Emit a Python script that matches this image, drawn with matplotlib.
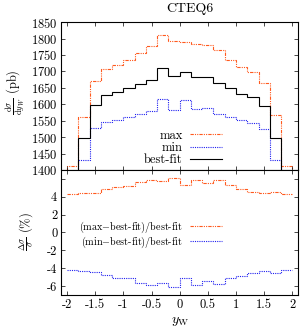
import matplotlib
matplotlib.use('Agg')
import matplotlib.pyplot as plt
import numpy as np

plt.rcParams['font.family'] = ['cmr10', 'DejaVu Serif']
plt.rcParams['mathtext.fontset'] = 'cm'
plt.rcParams['axes.unicode_minus'] = False
plt.rcParams['axes.formatter.use_mathtext'] = True

# y_W bin edges (20 bins of width 0.2)
edges = [-2.0, -1.8, -1.6, -1.4, -1.2, -1.0, -0.8, -0.6, -0.4, -0.2, 0.0,
         0.2, 0.4, 0.6, 0.8, 1.0, 1.2, 1.4, 1.6, 1.8, 2.0]

# dsigma/dy_W in pb
best_fit = [1355, 1497, 1599, 1627, 1636, 1648, 1662, 1675, 1711, 1686,
            1699, 1682, 1682, 1666, 1648, 1630, 1622, 1594, 1498, 1355]
xs_max = [1413, 1562, 1670, 1706, 1720, 1734, 1757, 1776, 1811, 1791,
          1790, 1784, 1779, 1766, 1736, 1714, 1699, 1666, 1566, 1413]
xs_min = [1298, 1430, 1527, 1546, 1551, 1561, 1569, 1578, 1615, 1582,
          1614, 1587, 1590, 1569, 1561, 1553, 1543, 1526, 1429, 1298]

# relative deviations in %
rel_max = [4.34, 4.37, 4.45, 4.86, 5.12, 5.19, 5.64, 5.90, 5.75, 6.13,
           5.27, 5.87, 5.49, 5.83, 5.27, 4.90, 4.56, 4.37, 4.56, 4.34]
rel_min = [-4.25, -4.36, -4.43, -4.80, -5.10, -5.14, -5.63, -5.89, -5.63, -6.11,
           -5.07, -5.93, -5.44, -5.81, -5.07, -4.88, -4.51, -4.32, -4.51, -4.25]

orange = '#ff5a1e'
blue = '#2020f0'
ls_max = (0, (3, 1, 1, 1, 1, 1))
ls_min = (0, (1, 1))

fig = plt.figure(figsize=(3, 3.3), dpi=100)
ax1 = fig.add_axes([0.205, 0.485, 0.788, 0.448])
ax2 = fig.add_axes([0.205, 0.106, 0.788, 0.379])

ax1.stairs(xs_max, edges, color=orange, lw=0.8, ls=ls_max, label='max')
ax1.stairs(xs_min, edges, color=blue, lw=0.8, ls=ls_min, label='min')
ax1.stairs(best_fit, edges, color='black', lw=0.8, label='best-fit')
ax1.set_xlim(-2.1, 2.1)
ax1.set_ylim(1400, 1850)
ax1.set_yticks(np.arange(1400, 1851, 50))
ax1.set_xticks([-2, -1.5, -1, -0.5, 0, 0.5, 1, 1.5, 2])
ax1.set_xticklabels([])

ax2.stairs(rel_max, edges, baseline=None, color=orange, lw=0.8, ls=ls_max,
           label=r'(max$-$best-fit)/best-fit')
ax2.stairs(rel_min, edges, baseline=None, color=blue, lw=0.8, ls=ls_min,
           label=r'(min$-$best-fit)/best-fit')
ax2.set_xlim(-2.1, 2.1)
ax2.set_ylim(-7, 7)
ax2.set_yticks([-6, -4, -2, 0, 2, 4, 6])
ax2.set_yticklabels(['-6', '-4', '-2', '0', '2', '4', ''])
ax2.set_xticks([-2, -1.5, -1, -0.5, 0, 0.5, 1, 1.5, 2])
ax2.set_xticklabels(['-2', '-1.5', '-1', '-0.5', '0', '0.5', '1', '1.5', '2'])

for ax in (ax1, ax2):
    ax.tick_params(direction='in', top=True, right=True, labelsize=9,
                   length=3, width=0.5, pad=3)
    for s in ax.spines.values():
        s.set_linewidth(0.8)

leg1 = ax1.legend(loc='lower right', bbox_to_anchor=(222 / 300, 1 - 166 / 330),
                  bbox_transform=fig.transFigure, markerfirst=False, frameon=False,
                  fontsize=9, handlelength=2.6, handletextpad=0.55,
                  labelspacing=0.0, borderpad=0, borderaxespad=0)
leg2 = ax2.legend(loc='lower right', bbox_to_anchor=(222 / 300, 1 - 250 / 330),
                  bbox_transform=fig.transFigure, markerfirst=False, frameon=False,
                  fontsize=7.3, handlelength=3.2, handletextpad=0.7,
                  labelspacing=0.0, borderpad=0, borderaxespad=0)

fig.text(190 / 300, 1 - 9 / 330, 'CTEQ6', ha='center', va='center', fontsize=10)
fig.text(15 / 300, 1 - 92 / 330, r'$\frac{\mathrm{d}\sigma}{\mathrm{d}y_W}$ (pb)',
         rotation=90, ha='center', va='center', fontsize=9)
fig.text(27 / 300, 1 - 232 / 330, r'$\frac{\Delta\sigma}{\sigma}$ (%)',
         rotation=90, ha='center', va='center', fontsize=9)
fig.text(180 / 300, 1 - 322 / 330, r'$y_{\mathrm{W}}$', ha='center', va='center',
         fontsize=10)

fig.savefig('out.png', dpi=100)
